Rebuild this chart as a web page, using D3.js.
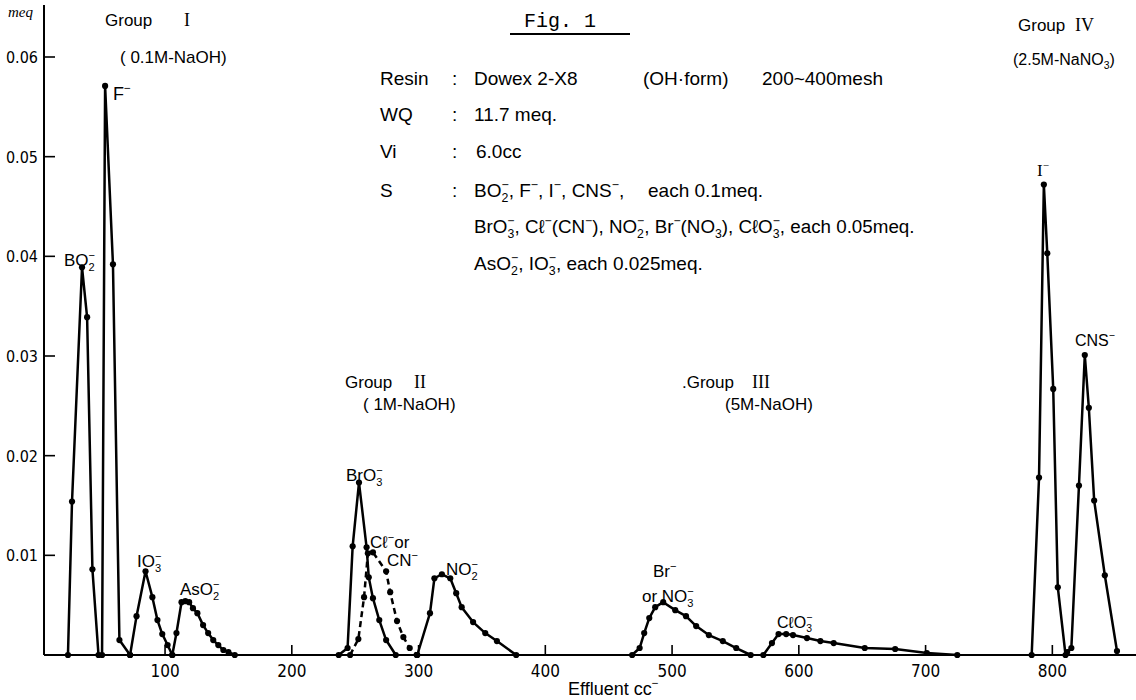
<!DOCTYPE html>
<html><head><meta charset="utf-8">
<script src="https://cdn.jsdelivr.net/npm/d3@7/dist/d3.min.js"></script>
<style>html,body{margin:0;padding:0;background:#fff}svg{display:block}</style>
</head><body>
<svg id="c" width="1136" height="700"></svg>
<script>
// ---- data ----
const xTicks = [100, 200, 300, 400, 500, 600, 700, 800];
const yTicks = [0.01, 0.02, 0.03, 0.04, 0.05, 0.06];
const yTickLabels = ["0.01", "0.02", "0.03", "0.04", "0.05", "0.06"];

const bo2_cc  = [23.4, 26.6, 34.5, 38.5, 42.7, 47.5];
const bo2_meq = [0, 0.0154, 0.0389, 0.0339, 0.0086, 0];
const f_cc    = [50.3, 52.7, 58.9, 64, 72.4];
const f_meq   = [0, 0.0571, 0.0392, 0.0015, 0];
const io3_cc  = [72.4, 77.5, 84.6, 90, 94, 97.8, 102, 105.7];
const io3_meq = [0, 0.0039, 0.0084, 0.0058, 0.0035, 0.0021, 0.0010, 0];
const aso2_cc  = [105.7, 109, 113, 116, 119, 122, 125.5, 130, 134, 138, 142, 146, 150, 155];
const aso2_meq = [0, 0.0022, 0.0053, 0.0054, 0.0053, 0.0047, 0.0042, 0.0030, 0.0022, 0.0015, 0.0010, 0.0005, 0.0003, 0];
const bro3_cc  = [237, 244, 248, 253, 259, 260.7, 264, 269, 274.4, 282];
const bro3_meq = [0, 0.0007, 0.0109, 0.0173, 0.0108, 0.0078, 0.0057, 0.0035, 0.0015, 0];
const cl_cc  = [246, 252.5, 257, 260, 264, 274.4, 277.6, 283, 288, 293, 298.6];
const cl_meq = [0, 0.0016, 0.0058, 0.0102, 0.0103, 0.0084, 0.0063, 0.0034, 0.0018, 0.0007, 0];
const no2_cc  = [299, 309, 312.5, 318.4, 325, 329.7, 334, 343, 352.6, 361.8, 377];
const no2_meq = [0, 0.0042, 0.0077, 0.0081, 0.0077, 0.0062, 0.0048, 0.0033, 0.0022, 0.0014, 0];
const br_cc  = [468.5, 474.4, 478, 482, 486.7, 493, 502.5, 511, 519, 529, 540, 550.6, 562];
const br_meq = [0, 0.0007, 0.0022, 0.0037, 0.0048, 0.0053, 0.0045, 0.0039, 0.0029, 0.0020, 0.0014, 0.0007, 0];
const clo3_cc  = [572, 578.8, 584, 590, 595.4, 606.4, 617, 627.5, 652, 676, 701, 725];
const clo3_meq = [0, 0.0012, 0.0021, 0.0021, 0.0020, 0.0017, 0.0014, 0.0012, 0.0007, 0.0006, 0.0002, 0];
const i_cc  = [783.7, 789.5, 793.3, 796, 800.7, 804.3, 810.4];
const i_meq = [0, 0.0178, 0.0472, 0.0403, 0.0267, 0.0068, 0];
const cns_cc  = [811.7, 815, 821, 825.6, 828.8, 833, 841.4, 851];
const cns_meq = [0.0003, 0.0007, 0.0170, 0.0301, 0.0248, 0.0155, 0.0080, 0.0004];

const series = [
  {cc: bo2_cc, meq: bo2_meq, dash: false},
  {cc: f_cc, meq: f_meq, dash: false},
  {cc: io3_cc, meq: io3_meq, dash: false},
  {cc: aso2_cc, meq: aso2_meq, dash: false},
  {cc: bro3_cc, meq: bro3_meq, dash: false},
  {cc: cl_cc, meq: cl_meq, dash: true},
  {cc: no2_cc, meq: no2_meq, dash: false},
  {cc: br_cc, meq: br_meq, dash: false},
  {cc: clo3_cc, meq: clo3_meq, dash: false},
  {cc: i_cc, meq: i_meq, dash: false},
  {cc: cns_cc, meq: cns_meq, dash: false}
];

// ---- drawing ----
const svg = d3.select("#c");
svg.append("rect").attr("width", 1136).attr("height", 700).attr("fill", "#fff");

const x = d3.scaleLinear().domain([0, 866]).range([38.3, 1136]);
const y = d3.scaleLinear().domain([0, 0.06]).range([655, 57]);
const axisX0 = 44;

const SANS = "'Liberation Sans', Arial, sans-serif";
const NARROW = "'Liberation Sans Narrow', 'DejaVu Sans Condensed', 'Liberation Sans', sans-serif";
const SERIF = "'Liberation Serif', 'DejaVu Serif', serif";
const MONO = "'Liberation Mono', 'DejaVu Sans Mono', monospace";

// rich text helper: _x subscript, ^x superscript, {..} groups
function rich(parent, px, py, str, size, family, anchor) {
  const t = parent.append("text").attr("x", px).attr("y", py)
    .attr("font-size", size).attr("font-family", family || SANS)
    .attr("text-anchor", anchor || "start").attr("fill", "#000");
  let off = 0, prevSub = false, subW = 0;
  const re = /([_^])(\{[^}]*\}|.)|([^_^]+)/g;
  let m;
  while ((m = re.exec(str))) {
    if (m[3]) {
      t.append("tspan").text(m[3]).attr("dy", -off);
      off = 0; prevSub = false;
    } else {
      let s = m[2]; if (s[0] === "{") s = s.slice(1, -1);
      const ss = 0.65 * size;
      const target = m[1] === "_" ? 0.28 * size : -0.42 * size;
      const ts = t.append("tspan").text(s).attr("font-size", ss).attr("dy", target - off);
      if (m[1] === "^" && prevSub) ts.attr("dx", -subW);
      off = target;
      if (m[1] === "_") { prevSub = true; subW = s.length * ss * 0.56; } else prevSub = false;
    }
  }
  return t;
}

// axes
const gx = svg.append("g");
gx.append("line").attr("x1", axisX0).attr("x2", 1136).attr("y1", y(0)).attr("y2", y(0))
  .attr("stroke", "#000").attr("stroke-width", 2);
gx.selectAll(".xt").data(xTicks).enter().append("line")
  .attr("x1", d => x(d)).attr("x2", d => x(d)).attr("y1", y(0)).attr("y2", y(0) - 10)
  .attr("stroke", "#000").attr("stroke-width", 1.6);
gx.selectAll(".xl").data(xTicks).enter().append("text")
  .attr("x", d => x(d)).attr("y", 677).attr("text-anchor", "middle")
  .attr("font-family", NARROW).attr("font-size", 17).text(d => d);

const gy = svg.append("g");
gy.append("line").attr("x1", axisX0).attr("x2", axisX0).attr("y1", 5).attr("y2", y(0))
  .attr("stroke", "#000").attr("stroke-width", 2);
gy.selectAll(".yt").data(yTicks).enter().append("line")
  .attr("x1", axisX0).attr("x2", axisX0 + 11).attr("y1", d => y(d)).attr("y2", d => y(d))
  .attr("stroke", "#000").attr("stroke-width", 1.6);
gy.selectAll(".yl").data(yTicks).enter().append("text")
  .attr("x", 38).attr("y", d => y(d) + 6).attr("text-anchor", "end")
  .attr("font-family", NARROW).attr("font-size", 16).text((d, i) => yTickLabels[i]);
svg.append("text").attr("x", 8).attr("y", 17).attr("font-family", SERIF)
  .attr("font-style", "italic").attr("font-size", 15).text("meq");

// series
const line = d3.line().x(d => x(d[0])).y(d => y(d[1]));
series.forEach(s => {
  const pts = s.cc.map((c, i) => [c, s.meq[i]]);
  svg.append("path").datum(pts).attr("d", line).attr("fill", "none")
    .attr("stroke", "#000").attr("stroke-width", 2.5).attr("stroke-linejoin", "round")
    .attr("stroke-dasharray", s.dash ? "6,4" : null);
  svg.selectAll(null).data(pts).enter().append("circle")
    .attr("cx", d => x(d[0])).attr("cy", d => y(d[1])).attr("r", 3.1).attr("fill", "#000");
});

// group labels
function group(px, py, word, num, numX) {
  svg.append("text").attr("x", px).attr("y", py).attr("font-family", SANS).attr("font-size", 17).text(word);
  svg.append("text").attr("x", numX).attr("y", py).attr("font-family", SERIF).attr("font-size", 18).text(num);
}
group(105, 26, "Group", "I", 184);
rich(svg, 120, 63, "( 0.1M-NaOH)", 17, SANS);
group(345, 388, "Group", "II", 414);
rich(svg, 363, 410, "( 1M-NaOH)", 17, SANS);
group(682, 388, ".Group", "III", 752);
rich(svg, 725, 410, "(5M-NaOH)", 17, SANS);
group(1018, 31, "Group", "IV", 1075);
rich(svg, 1013, 65, "(2.5M-NaNO_3)", 16, SANS);

// peak labels
rich(svg, 113, 100, "F^−", 18, SANS);
rich(svg, 64, 266, "BO_2^−", 17, SANS);
rich(svg, 137, 567, "IO_3^−", 17, SANS);
rich(svg, 180, 595, "AsO_2^−", 17, SANS);
rich(svg, 346, 481, "BrO_3^−", 17, SANS);
rich(svg, 370, 548, "Cℓ^−or", 17, SANS);
rich(svg, 387, 566, "CN^−", 17, SANS);
rich(svg, 446, 575, "NO_2^−", 17, SANS);
rich(svg, 653, 577, "Br^−", 17, SANS);
rich(svg, 642, 602, "or NO_3^−", 17, SANS);
rich(svg, 777, 628, "CℓO_3^−", 16, SANS);
rich(svg, 1037, 176, "I^−", 17, SERIF);
rich(svg, 1075, 346, "CNS^−", 16, SANS);

// title
svg.append("text").attr("x", 524).attr("y", 27).attr("font-family", MONO).attr("font-size", 20).text("Fig.  1");
svg.append("line").attr("x1", 510).attr("x2", 630).attr("y1", 34).attr("y2", 34).attr("stroke", "#000").attr("stroke-width", 2);

// conditions block
const TB = 19;
rich(svg, 380, 85, "Resin", TB, SANS);
rich(svg, 452, 85, ":", TB, SANS);
rich(svg, 474, 85, "Dowex  2-X8", TB, SANS);
rich(svg, 643, 85, "(OH·form)", TB, SANS);
rich(svg, 762, 85, "200~400mesh", TB, SANS);
rich(svg, 380, 121, "WQ", TB, SANS);
rich(svg, 452, 121, ":", TB, SANS);
rich(svg, 474, 121, "11.7 meq.", TB, SANS);
rich(svg, 380, 158, "Vi", TB, SANS);
rich(svg, 452, 158, ":", TB, SANS);
rich(svg, 476, 158, "6.0cc", TB, SANS);
rich(svg, 380, 197, "S", TB, SANS);
rich(svg, 452, 197, ":", TB, SANS);
rich(svg, 474, 197, "BO_2^−, F^−, I^−, CNS^−,", TB, SANS);
rich(svg, 648, 197, "each 0.1meq.", TB, SANS);
rich(svg, 474, 233, "BrO_3^−, Cℓ^−(CN^−), NO_2^−, Br^−(NO_3), CℓO_3^−, each 0.05meq.", 18.8, SANS);
rich(svg, 474, 270, "AsO_2^−, IO_3^−, each 0.025meq.", TB, SANS);

// x axis title
rich(svg, 568, 695, "Effluent cc^−", 18, SANS);
</script>
</body></html>
